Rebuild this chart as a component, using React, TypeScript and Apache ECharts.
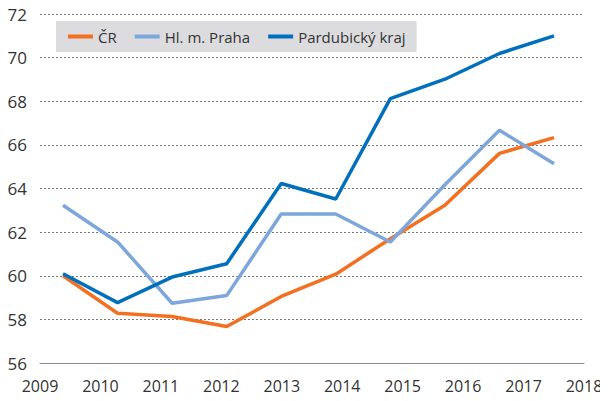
import React, { useEffect, useRef } from "react";
import * as echarts from "echarts";

const axisYears = ["2009", "2010", "2011", "2012", "2013", "2014", "2015", "2016", "2017", "2018"];
const dataYears = ["2009", "2010", "2011", "2012", "2013", "2014", "2015", "2016", "2017", "2018"];
const cr = [60.0, 58.28, 58.13, 57.67, 59.05, 60.07, 61.7, 63.23, 65.61, 66.33];
const praha = [63.23, 61.55, 58.74, 59.09, 62.83, 62.83, 61.55, 64.17, 66.67, 65.13];
const pardubice = [60.09, 58.77, 59.94, 60.55, 64.23, 63.52, 68.12, 69.01, 70.19, 71.0];
const seriesNames = ["ČR", "Hl. m. Praha", "Pardubický kraj"];
const colors = ["#f37021", "#7da7da", "#0070bd"];

const FONT = "Open Sans";

export default function App() {
  const ref = useRef<HTMLDivElement>(null);
  useEffect(() => {
    if (!ref.current) return;
    const chart = echarts.init(ref.current, undefined, { renderer: "svg" });
    const top = 14;
    const bottom = 38;
    chart.setOption({
      animation: false,
      backgroundColor: "#ffffff",
      textStyle: { fontFamily: FONT },
      grid: [
        { left: 40, right: 24, top, bottom },
        { left: 63, right: 54, top, bottom },
      ],
      legend: {
        left: 56,
        top: 21,
        backgroundColor: "#dcdcde",
        padding: [8, 11, 8, 12],
        itemGap: 18,
        itemWidth: 25,
        itemHeight: 4,
        icon: "rect",
        textStyle: { fontFamily: FONT, fontSize: 15, color: "#333333" },
        data: seriesNames,
      },
      xAxis: [
        {
          gridIndex: 0,
          type: "category",
          boundaryGap: false,
          data: axisYears,
          axisLine: { show: true, lineStyle: { color: "#888888", width: 1 } },
          axisTick: { show: false },
          axisLabel: { color: "#333333", fontSize: 16, fontFamily: FONT, margin: 15 },
          splitLine: { show: false },
        },
        {
          gridIndex: 1,
          type: "category",
          boundaryGap: false,
          data: dataYears,
          show: false,
        },
      ],
      yAxis: [
        {
          gridIndex: 0,
          type: "value",
          min: 56,
          max: 72,
          interval: 2,
          axisLine: { show: false },
          axisTick: { show: false },
          axisLabel: { color: "#333333", fontSize: 17, fontFamily: FONT, margin: 13 },
          splitLine: { show: true, lineStyle: { color: "#777777", type: [2, 2], width: 1 } },
        },
        {
          gridIndex: 1,
          type: "value",
          min: 56,
          max: 72,
          interval: 2,
          show: false,
          splitLine: { show: false },
        },
      ],
      series: [cr, praha, pardubice].map((d, i) => ({
        name: seriesNames[i],
        type: "line",
        xAxisIndex: 1,
        yAxisIndex: 1,
        data: d,
        showSymbol: false,
        symbol: "none",
        color: colors[i],
        lineStyle: { color: colors[i], width: 3.5 },
        z: i === 2 ? 5 : 3,
      })),
    });
    return () => chart.dispose();
  }, []);
  return <div ref={ref} style={{ width: 608, height: 401, margin: -8 }} />;
}
